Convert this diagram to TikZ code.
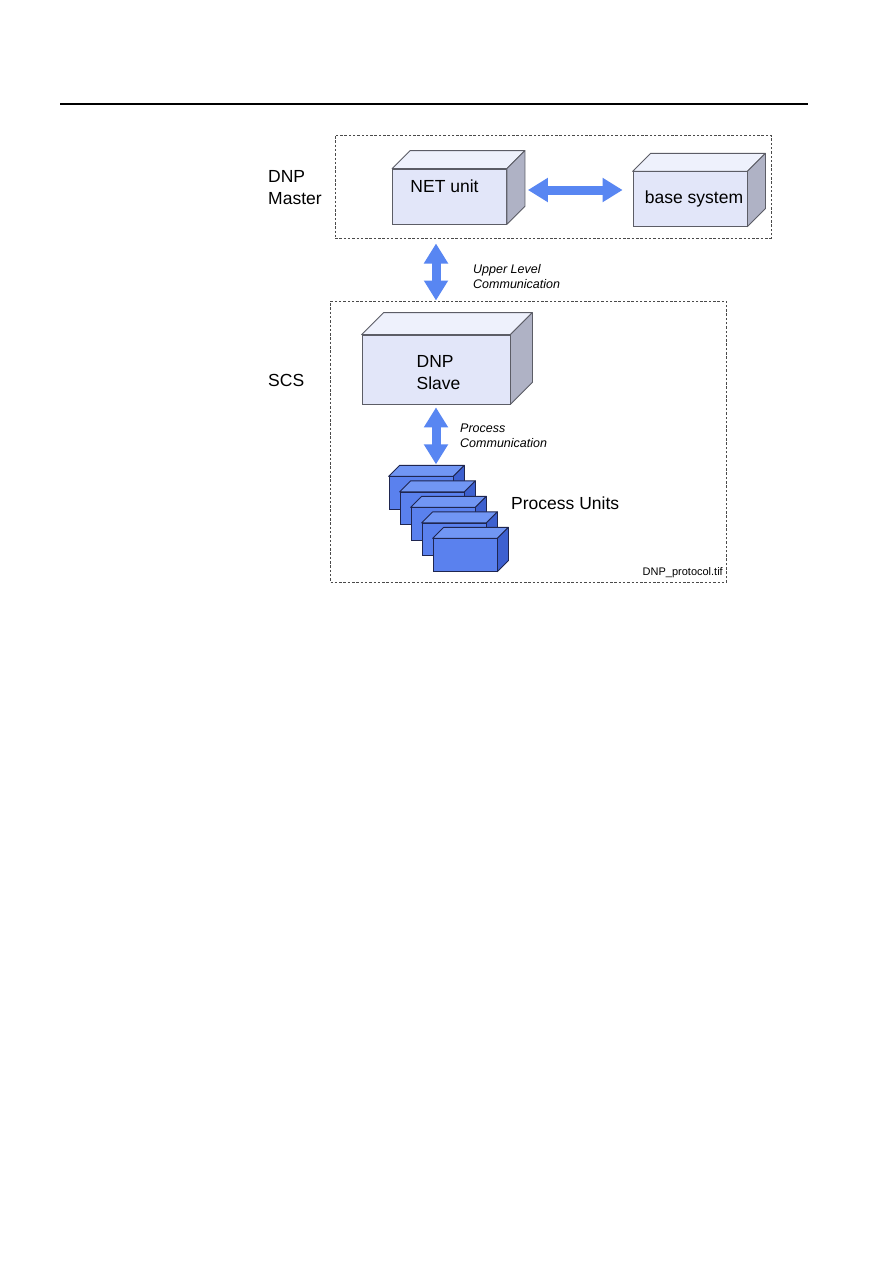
\documentclass[tikz,border=0pt]{standalone}
\usepackage{fontspec}
\setmainfont{Liberation Sans}
\usetikzlibrary{arrows.meta,positioning,calc}
\usepackage{xcolor}
\definecolor{dnpFront}{HTML}{E2E6F9}
\definecolor{dnpTop}{HTML}{EEF1FC}
\definecolor{dnpSide}{HTML}{AFB2C5}
\definecolor{dnpEdge}{HTML}{5C5D66}
\definecolor{puFront}{HTML}{5A81EE}
\definecolor{puTop}{HTML}{7196F4}
\definecolor{puSide}{HTML}{3D60D0}
\definecolor{puEdge}{HTML}{1F2650}
\definecolor{dnpArrow}{HTML}{5886F2}
\definecolor{dnpFrame}{HTML}{4A4A4A}
\tikzset{
  dashframe/.style={draw=dnpFrame, line width=1pt, dash pattern=on 2.5pt off 1.8pt, inner sep=0pt},
  unit/.style={draw=dnpEdge, fill=dnpFront, line width=0.8pt, inner sep=0pt, font=\fontsize{17.5}{21.5}\selectfont},
  unittop/.style={draw=dnpEdge, fill=dnpTop, line width=0.8pt, line join=round},
  unitside/.style={draw=dnpEdge, fill=dnpSide, line width=0.8pt, line join=round},
  punit/.style={draw=puEdge, fill=puFront, line width=0.8pt, minimum width=64pt, minimum height=32.5pt, inner sep=0pt},
  punittop/.style={draw=puEdge, fill=puTop, line width=0.8pt, line join=round},
  punitside/.style={draw=puEdge, fill=puSide, line width=0.8pt, line join=round},
  blockarr/.style={{Triangle[width=23pt,length=20pt]}-{Triangle[width=23pt,length=20pt]}, line width=9pt, draw=dnpArrow},
  lbl/.style={font=\fontsize{17.5}{21.5}\selectfont, align=left, inner sep=0pt},
  comm/.style={font=\itshape\fontsize{12.5}{15}\selectfont, align=left, inner sep=0pt},
}
% top and side face of a box node: name, depth, style prefix
\newcommand{\cubefaces}[3]{%
  \path[#3top] (#1.north west) -- ++(#2,-#2) -- ($(#1.north east)+(#2,-#2)$) -- (#1.north east) -- cycle;
  \path[#3side] (#1.north east) -- ++(#2,-#2) -- ($(#1.south east)+(#2,-#2)$) -- (#1.south east) -- cycle;
}
\begin{document}
\begin{tikzpicture}[x=1pt, y=-1pt]
    \path[use as bounding box, fill=white] (0,0) rectangle (893,1263);
    \draw[line width=1.1pt] (60,104) -- (808,104);

    % frames
    \node[dashframe, minimum width=436pt, minimum height=103pt] (master) at (553,186.5) {};
    \node[dashframe, minimum width=396pt, minimum height=281pt] (scs) at (528.5,441.5) {};
    \node[lbl, anchor=west] (masterlbl) at (268,187.5) {DNP\\Master};
    \node[lbl, anchor=west] (scslbl) at (268,380) {SCS};

    % master units
    \node[unit, minimum width=114pt, minimum height=55pt] (net) at (449.5,196.5) {\raisebox{10pt}[\height][\depth]{NET unit}\hspace*{10pt}};
    \cubefaces{net}{18}{unit}
    \node[unit, minimum width=114pt, minimum height=54.5pt] (base) at (690,199) {\hspace*{8pt}base system};
    \cubefaces{base}{18}{unit}
    \draw[blockarr] ($(net.east)+(21,-6.5)$) -- ($(base.west)+(-10,-9)$);

    % slave
    \node[unit, minimum width=148pt, minimum height=69pt] (slave) at (436,369.5) {\hspace*{5pt}\raisebox{-4.5pt}[\height][\depth]{\begin{tabular}{@{}l@{}}DNP\\Slave\end{tabular}}};
    \cubefaces{slave}{22}{unit}
    \draw[blockarr] ($(slave.north |- master.south)+(0,5)$) -- (slave.north |- scs.north);
    \node[comm, anchor=west] (upcomm) at (473,276.5) {Upper Level\\Communication};

    % process units
    \foreach \i in {0,...,4} {
        \node[punit] (pu\i) at ({421+11*\i},{493+15.5*\i}) {};
        \cubefaces{pu\i}{11}{punit}
    }
    \draw[blockarr] ($(slave.south)+(0,3)$) -- ($(slave.south |- pu0.north)+(0,-12)$);
    \node[comm, anchor=west] (pcomm) at (460,436) {Process\\Communication};
    \node[lbl, anchor=west] (pulbl) at (511,503.5) {Process Units};
    \node[inner sep=0pt, anchor=east, font=\fontsize{11}{13}\selectfont] (fname) at (723,573) {DNP\_protocol.tif};
\end{tikzpicture}
\end{document}
